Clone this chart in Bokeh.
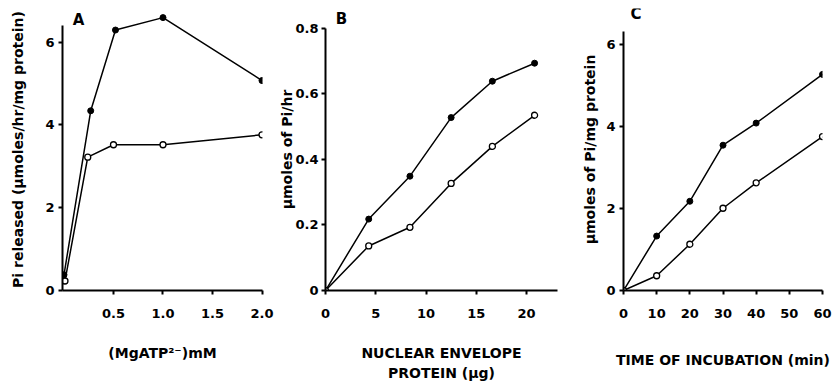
from bokeh.plotting import figure
from bokeh.layouts import row
from bokeh.models import FixedTicker, Range1d
from bokeh.core.properties import value
from bokeh.embed import file_html
from bokeh.resources import INLINE

# ---------------- data ----------------
# Panel A: Pi released vs MgATP2- concentration
a_x_filled = [0.0, 0.27, 0.52, 1.0, 2.0]
a_y_filled = [0.38, 4.34, 6.29, 6.59, 5.07]
a_x_open = [0.01, 0.24, 0.5, 1.0, 2.0]
a_y_open = [0.23, 3.22, 3.52, 3.52, 3.76]
a_xticks = [0.5, 1.0, 1.5, 2.0]
a_xlabels = ["0.5", "1.0", "1.5", "2.0"]
a_yticks = [0, 2, 4, 6]

# Panel B: umoles Pi/hr vs nuclear envelope protein
b_x = [0, 4.3, 8.4, 12.5, 16.6, 20.8]
b_filled = [0, 0.218, 0.349, 0.528, 0.639, 0.694]
b_open = [0, 0.136, 0.193, 0.327, 0.44, 0.535]
b_xticks = [0, 5, 10, 15, 20]
b_yticks = [0, 0.2, 0.4, 0.6, 0.8]
b_ylabels = ["0", "0.2", "0.4", "0.6", "0.8"]

# Panel C: umoles Pi/mg protein vs time of incubation
c_x = [0, 10, 20, 30, 40, 60]
c_filled = [0, 1.33, 2.18, 3.55, 4.09, 5.28]
c_open = [0, 0.36, 1.13, 2.01, 2.63, 3.76]
c_xticks = [0, 10, 20, 30, 40, 50, 60]
c_yticks = [0, 2, 4, 6]

FONT = "DejaVu Sans"
H = 384


def make_fig(width, xr, yr, ybounds, left, right, top, bottom):
    p = figure(width=width, height=H, x_range=Range1d(*xr), y_range=Range1d(*yr),
               output_backend="svg", toolbar_location=None,
               min_border_left=left, min_border_right=right,
               min_border_top=top, min_border_bottom=bottom)
    p.xgrid.visible = False
    p.ygrid.visible = False
    p.outline_line_color = None
    p.background_fill_color = "white"
    p.border_fill_color = "white"
    for ax in p.axis:
        ax.axis_line_width = 2
        ax.axis_line_color = "black"
        ax.major_tick_line_width = 2
        ax.major_tick_line_color = "black"
        ax.major_tick_in = 0
        ax.major_tick_out = 4
        ax.minor_tick_line_color = None
        ax.major_label_text_font = FONT
        ax.major_label_text_font_style = "bold"
        ax.major_label_text_font_size = "13px"
        ax.major_label_text_color = "black"
        ax.axis_label_text_font = FONT
        ax.axis_label_text_font_style = "bold"
        ax.axis_label_text_font_size = "14px"
        ax.axis_label_text_color = "black"
    p.yaxis.bounds = ybounds
    p.xaxis.major_label_standoff = 14
    p.yaxis.major_label_standoff = 4
    return p


def draw(p, x1, y1, x2, y2):
    p.line(x1, y1, line_color="black", line_width=1.5)
    p.line(x2, y2, line_color="black", line_width=1.5)
    p.scatter(x1, y1, size=6, fill_color="black", line_color="black")
    p.scatter(x2, y2, size=6, fill_color="white", line_color="black", line_width=1.3)


def panel_letter(p, x, y, t):
    p.text(x=[x], y=[y], text=[t], text_font=value(FONT), text_font_style="bold",
           text_font_size="15px", text_align="center", text_baseline="bottom",
           text_color="black")


# ---------------- Panel A ----------------
pa = make_fig(274, (-0.015, 2.005), (0, 6.81), (0, 6.4), 62, 12, 8, 91)
draw(pa, a_x_filled, a_y_filled, a_x_open, a_y_open)
pa.xaxis.ticker = FixedTicker(ticks=a_xticks)
pa.xaxis.major_label_overrides = {t: l for t, l in zip(a_xticks, a_xlabels)}
pa.yaxis.ticker = FixedTicker(ticks=a_yticks)
pa.xaxis.axis_label = "(MgATP\u00b2\u207b)mM"
pa.xaxis.axis_label_standoff = 24
pa.yaxis.axis_label = "Pi released (\u00b5moles/hr/mg protein)"
pa.yaxis.axis_label_standoff = 16
panel_letter(pa, 0.146, 6.31, "A")

# ---------------- Panel B ----------------
pb = make_fig(291, (0, 23.08), (0, 0.861), (0, 0.8), 51, 8, 8, 91)
draw(pb, b_x, b_filled, b_x, b_open)
pb.xaxis.ticker = FixedTicker(ticks=b_xticks)
pb.yaxis.ticker = FixedTicker(ticks=b_yticks)
pb.yaxis.major_label_overrides = {t: l for t, l in zip(b_yticks, b_ylabels)}
pb.yaxis.major_label_standoff = 3
pb.xaxis.axis_label = "NUCLEAR ENVELOPE\nPROTEIN (\u00b5g)"
pb.xaxis.axis_label_text_line_height = 1.3
pb.xaxis.axis_label_standoff = 24
pb.yaxis.axis_label = "\u03bcmoles of Pi/hr"
pb.yaxis.axis_label_standoff = -3
panel_letter(pb, 1.6, 0.801, "B")

# ---------------- Panel C ----------------
pc = make_fig(270, (0, 60), (0, 6.89), (0, 6.34), 58, 13, 5, 91)
draw(pc, c_x, c_filled, c_x, c_open)
pc.xaxis.ticker = FixedTicker(ticks=c_xticks)
pc.yaxis.ticker = FixedTicker(ticks=c_yticks)
pc.xaxis.axis_label = "TIME OF INCUBATION (min)"
pc.xaxis.axis_label_standoff = 31
pc.yaxis.axis_label = "\u00b5moles of Pi/mg protein"
pc.yaxis.axis_label_standoff = 5
panel_letter(pc, 3.8, 6.53, "C")

layout = row(pa, pb, pc)
open("out.html", "w").write(file_html(layout, INLINE))
